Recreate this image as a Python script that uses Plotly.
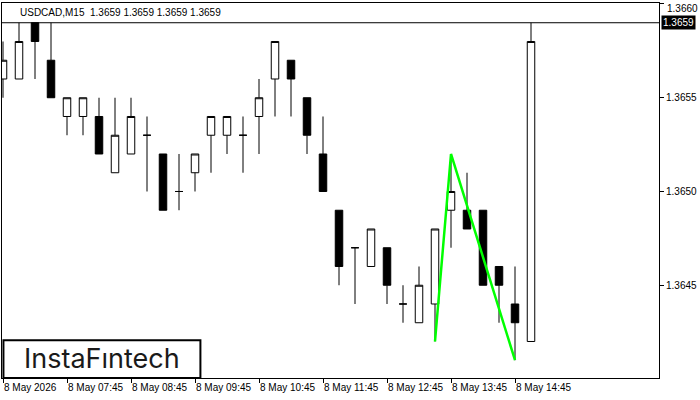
import plotly.graph_objects as go

# ---- data ----
idx = list(range(34))
opens = [1.3656, 1.3656, 1.3659, 1.3657, 1.3654, 1.3654, 1.3654, 1.3651, 1.3652, 1.3653,
         1.3652, 1.3650, 1.3651, 1.3653, 1.3653, 1.3653, 1.3654, 1.3656, 1.3657, 1.3655,
         1.3652, 1.3649, 1.3647, 1.3646, 1.3647, 1.3644, 1.3643, 1.3644, 1.3649, 1.3649,
         1.3649, 1.3646, 1.3644, 1.3642]
highs = [1.3658, 1.3659, 1.3659, 1.3659, 1.3655, 1.3655, 1.3655, 1.3655, 1.3655, 1.3654,
         1.3652, 1.3652, 1.3652, 1.3654, 1.3654, 1.3654, 1.3656, 1.3658, 1.3657, 1.3655,
         1.3654, 1.3649, 1.3647, 1.3648, 1.3647, 1.3645, 1.3646, 1.3648, 1.3652, 1.3651,
         1.3649, 1.3646, 1.3646, 1.3659]
lows = [1.3655, 1.3656, 1.3656, 1.3655, 1.3653, 1.3653, 1.3652, 1.3651, 1.3652, 1.3650,
        1.3649, 1.3649, 1.3650, 1.3651, 1.3652, 1.3651, 1.3652, 1.3654, 1.3654, 1.3652,
        1.3650, 1.3645, 1.3644, 1.3646, 1.3644, 1.3643, 1.3643, 1.3642, 1.3647, 1.3648,
        1.3645, 1.3643, 1.3641, 1.3642]
closes = [1.3657, 1.3658, 1.3658, 1.3655, 1.3655, 1.3655, 1.3652, 1.3653, 1.3654, 1.3653,
          1.3649, 1.3650, 1.3652, 1.3654, 1.3654, 1.3653, 1.3655, 1.3658, 1.3656, 1.3653,
          1.3650, 1.3646, 1.3647, 1.3648, 1.3645, 1.3644, 1.3645, 1.3648, 1.3650, 1.3648,
          1.3645, 1.3645, 1.3643, 1.3658]

pattern_x = [27, 28, 32]
pattern_y = [1.3642, 1.3652, 1.3641]

bid = 1.3659
y_ticks = [1.3645, 1.3650, 1.3655, 1.3660]
x_tick_idx = [0, 4, 8, 12, 16, 20, 24, 28, 32]
x_tick_text = ["8 May 2026", "8 May 07:45", "8 May 08:45", "8 May 09:45", "8 May 10:45",
               "8 May 11:45", "8 May 12:45", "8 May 13:45", "8 May 14:45"]
header = "USDCAD,M15  1.3659 1.3659 1.3659 1.3659"
logo_text = "InstaFıntech"

FONT = "Liberation Sans"

# top-most tick label is placed as an annotation so it is not clipped by the page edge
y_tick_text = [f"{v:.4f}" for v in y_ticks[:-1]] + [""]

fig = go.Figure()
fig.add_trace(go.Candlestick(
    x=idx, open=opens, high=highs, low=lows, close=closes,
    increasing=dict(line=dict(color="black", width=1), fillcolor="white"),
    decreasing=dict(line=dict(color="black", width=1), fillcolor="black"),
    whiskerwidth=0, showlegend=False, hoverinfo="skip",
))
fig.add_trace(go.Scatter(
    x=pattern_x, y=pattern_y, mode="lines",
    line=dict(color="#00FF00", width=2.5), showlegend=False, hoverinfo="skip",
))

fig.add_shape(type="line", xref="paper", x0=0, x1=1, yref="y", y0=bid, y1=bid,
              line=dict(color="black", width=1))

fig.update_layout(
    width=700, height=400,
    margin=dict(l=2, r=41, t=3, b=22, autoexpand=False),
    paper_bgcolor="white", plot_bgcolor="white",
    boxgap=0.33,
    font=dict(family=FONT, size=10, color="black"),
    xaxis=dict(
        range=[-0.0625, 41], rangeslider=dict(visible=False),
        showgrid=False, zeroline=False, automargin=False,
        showline=True, linecolor="black", linewidth=1, mirror=True,
        tickmode="array", tickvals=x_tick_idx, ticktext=x_tick_text,
        ticks="outside", ticklen=4, tickcolor="black", tickangle=0,
        ticklabelposition="outside right", ticklabeloverflow="allow",
        tickfont=dict(family=FONT, size=10, color="black"),
    ),
    yaxis=dict(
        range=[1.3640053, 1.3660053], side="right",
        showgrid=False, zeroline=False, automargin=False,
        showline=True, linecolor="black", linewidth=1, mirror=True,
        tickmode="array", tickvals=y_ticks, ticktext=y_tick_text,
        ticks="outside", ticklen=4, tickcolor="black",
        ticklabeloverflow="allow",
        tickfont=dict(family=FONT, size=10, color="black"),
    ),
)

fig.add_annotation(xref="paper", yref="y", x=1, y=y_ticks[-1], xshift=7, yshift=2,
                   xanchor="left", yanchor="top", text=f"{y_ticks[-1]:.4f}",
                   showarrow=False, borderpad=0,
                   font=dict(family=FONT, size=10, color="black"))

fig.add_annotation(xref="paper", yref="y", x=1, y=bid, xshift=2, xanchor="left",
                   yanchor="middle", text=f"{bid:.4f}", showarrow=False,
                   bgcolor="black", font=dict(family=FONT, size=10, color="white"),
                   borderpad=1)

fig.add_annotation(xref="paper", yref="paper", x=0.024, y=0.976, xanchor="left",
                   yanchor="middle", text=header, showarrow=False,
                   font=dict(family=FONT, size=10, color="black"))

fig.add_shape(type="rect", xref="paper", yref="paper", x0=0.0022, x1=0.302,
              y0=0.0, y1=0.101, line=dict(color="black", width=2), fillcolor="white",
              layer="above")
fig.add_annotation(xref="paper", yref="paper", x=0.152, y=0.052, xanchor="center",
                   yanchor="middle", text=logo_text, showarrow=False,
                   font=dict(family="Inter", size=27, color="#1a1a1a"))

fig.write_html("out.html", config={"displayModeBar": False},
               post_script="document.body.style.margin='0px';")
